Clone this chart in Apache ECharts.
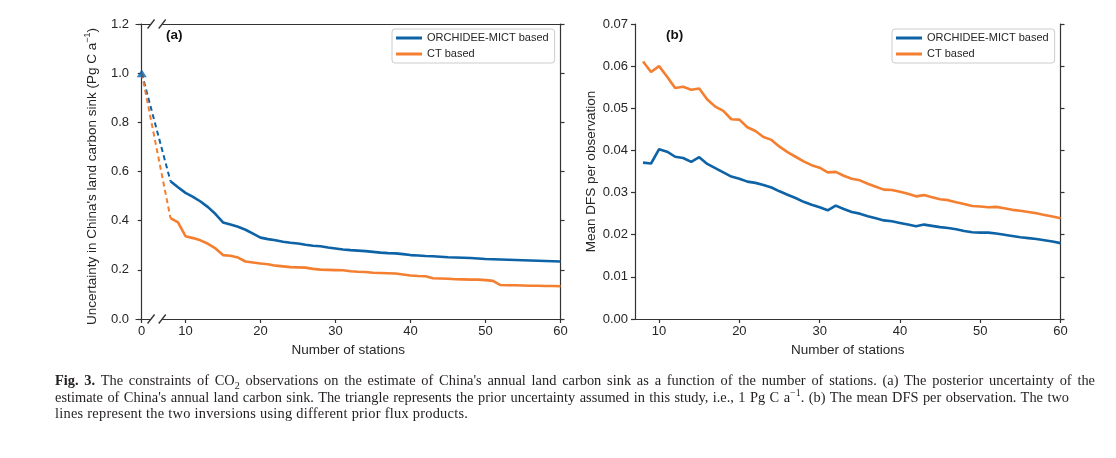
<!DOCTYPE html>
<html>
<head>
<meta charset="utf-8">
<script src="https://cdn.jsdelivr.net/npm/echarts@6/dist/echarts.min.js"></script>
<style>
  html, body { margin: 0; padding: 0; background: #fff; }
  #wrap { position: relative; width: 1116px; height: 458px; overflow: hidden; }
  #chart { position: absolute; left: 0; top: 0; width: 1116px; height: 458px; }
  #caption { position: absolute; left: 55px; top: 372px; font-family: "Liberation Serif", "DejaVu Serif", serif; font-size: 14.4px; line-height: 16.5px; color: #231f20; }
  #caption .ln { white-space: nowrap; }
  #caption .j { text-align: justify; text-align-last: justify; white-space: normal; }
  #caption sub, #caption sup { font-size: 10px; line-height: 0; }
</style>
</head>
<body>
<div id="wrap">
  <div id="chart"></div>
  <div id="caption">
    <div class="ln j" style="width:1040px"><b>Fig. 3.</b> The constraints of CO<sub>2</sub> observations on the estimate of China's annual land carbon sink as a function of the number of stations. (a) The posterior uncertainty of the</div>
    <div class="ln j" style="width:1014px">estimate of China's annual land carbon sink. The triangle represents the prior uncertainty assumed in this study, i.e., 1 Pg C a<sup>−1</sup>. (b) The mean DFS per observation. The two</div>
    <div class="ln" style="letter-spacing:0.25px">lines represent the two inversions using different prior flux products.</div>
  </div>
</div>
<script>
// ---------------- DATA ----------------
const seriesNames = ['ORCHIDEE-MICT based', 'CT based'];
const stations = [8, 9, 10, 11, 12, 13, 14, 15, 16, 17, 18, 19, 20, 21, 22, 23, 24, 25, 26, 27, 28, 29, 30,
  31, 32, 33, 34, 35, 36, 37, 38, 39, 40, 41, 42, 43, 44, 45, 46, 47, 48, 49, 50,
  51, 52, 53, 54, 55, 56, 57, 58, 59, 60];
const priorStations = 0;
const priorUncertainty = 1.0;
// (a) posterior uncertainty (Pg C a-1)
const uncOrchidee = [0.560, 0.536, 0.513, 0.497, 0.478, 0.455, 0.427, 0.393, 0.384, 0.375, 0.363, 0.347, 0.331,
  0.325, 0.320, 0.314, 0.310, 0.307, 0.302, 0.298, 0.296, 0.291, 0.287,
  0.283, 0.280, 0.278, 0.276, 0.273, 0.270, 0.268, 0.267, 0.264, 0.260,
  0.258, 0.256, 0.255, 0.253, 0.251, 0.250, 0.249, 0.248, 0.246, 0.244,
  0.243, 0.242, 0.241, 0.240, 0.239, 0.238, 0.237, 0.236, 0.235, 0.234];
const uncCT = [0.410, 0.393, 0.337, 0.329, 0.320, 0.306, 0.287, 0.260, 0.257, 0.250, 0.234, 0.230, 0.226,
  0.223, 0.217, 0.214, 0.211, 0.210, 0.209, 0.204, 0.201, 0.200, 0.199,
  0.198, 0.194, 0.192, 0.191, 0.188, 0.187, 0.186, 0.185, 0.181, 0.177,
  0.175, 0.174, 0.166, 0.165, 0.164, 0.162, 0.161, 0.160, 0.160, 0.158,
  0.155, 0.138, 0.137, 0.137, 0.136, 0.135, 0.135, 0.134, 0.134, 0.133];
// (b) mean DFS per observation
const dfsOrchidee = [0.0371, 0.0369, 0.0403, 0.0397, 0.0385, 0.0382, 0.0373, 0.0384, 0.0368, 0.0358, 0.0348, 0.0338, 0.0333,
  0.0326, 0.0323, 0.0318, 0.0312, 0.0303, 0.0295, 0.0287, 0.0278, 0.0271, 0.0265,
  0.0258, 0.0269, 0.0261, 0.0254, 0.0250, 0.0244, 0.0239, 0.0234, 0.0232, 0.0228,
  0.0224, 0.0220, 0.0224, 0.0221, 0.0218, 0.0216, 0.0213, 0.0209, 0.0206, 0.0205,
  0.0205, 0.0203, 0.0200, 0.0197, 0.0194, 0.0192, 0.0190, 0.0187, 0.0184, 0.0180];
const dfsCT = [0.0611, 0.0586, 0.0600, 0.0575, 0.0548, 0.0551, 0.0544, 0.0547, 0.0521, 0.0504, 0.0494, 0.0474, 0.0473,
  0.0455, 0.0446, 0.0432, 0.0425, 0.0409, 0.0396, 0.0385, 0.0374, 0.0365, 0.0359,
  0.0348, 0.0349, 0.0340, 0.0333, 0.0329, 0.0321, 0.0314, 0.0307, 0.0306, 0.0302,
  0.0297, 0.0291, 0.0294, 0.0289, 0.0284, 0.0282, 0.0277, 0.0273, 0.0268, 0.0267,
  0.0265, 0.0266, 0.0263, 0.0259, 0.0257, 0.0254, 0.0251, 0.0247, 0.0243, 0.0239];
const xTicks = [10, 20, 30, 40, 50, 60];
const xTicksPrior = [0];

// ---------------- STYLE ----------------
const BLUE = '#0d63a6';
const ORANGE = '#f47f30';
const AX = '#333333';
const TXT = '#262626';
const FONT = '"Liberation Sans", Arial, sans-serif';

const pair = (xs, ys) => xs.map((x, i) => [x, ys[i]]);

const chart = echarts.init(document.getElementById('chart'), null, { renderer: 'canvas' });

const axisLineStyle = { show: true, lineStyle: { color: AX, width: 1.2 } };
const tickStyle = { show: true, inside: false, length: 4, lineStyle: { color: AX, width: 1.2 } };
const labelStyle = { color: TXT, fontSize: 13, fontFamily: FONT };

function bottomX(grid, min, max, ticks, showLine) {
  return {
    type: 'value', gridIndex: grid, position: 'bottom', min: min, max: max,
    axisLine: showLine ? axisLineStyle : { show: false },
    axisTick: Object.assign({ customValues: ticks }, tickStyle),
    axisLabel: Object.assign({ customValues: ticks, margin: 6 }, labelStyle),
    splitLine: { show: false }
  };
}
function topX(grid, min, max) {
  return {
    type: 'value', gridIndex: grid, position: 'top', min: min, max: max,
    axisLine: axisLineStyle, axisTick: { show: false }, axisLabel: { show: false }, splitLine: { show: false }
  };
}
function sideY(grid, pos, min, max, interval, digits, name, nameGap, namePad) {
  const ax = {
    type: 'value', gridIndex: grid, position: pos, min: min, max: max, interval: interval,
    axisLine: axisLineStyle, axisTick: tickStyle,
    axisLabel: pos === 'left'
      ? Object.assign({ margin: 7, formatter: v => v.toFixed(digits) }, labelStyle)
      : { show: false },
    splitLine: { show: false }
  };
  if (name) {
    ax.name = name;
    ax.nameLocation = 'middle';
    ax.nameGap = nameGap;
    ax.nameTextStyle = {
      color: TXT, fontSize: 13.5, fontFamily: FONT, padding: namePad || 0,
      rich: { sup: { fontSize: 9, fontFamily: FONT, color: TXT, padding: [0, 0, 10, 0] } }
    };
  }
  return ax;
}

const xMinA = 3.4, xMinB = 7, xMax = 60;

const option = {
  animation: false,
  backgroundColor: '#ffffff',
  textStyle: { fontFamily: FONT },
  grid: [
    { left: 136, right: 555.5, top: 24, bottom: 139 },
    { left: 635, right: 55.5, top: 24, bottom: 139 }
  ],
  xAxis: [
    Object.assign(bottomX(0, xMinA, xMax, xTicks, true), {
      name: 'Number of stations', nameLocation: 'middle', nameGap: 22,
      nameTextStyle: { color: TXT, fontSize: 13.5, fontFamily: FONT }
    }),
    bottomX(0, -1.583, 116.33, xTicksPrior, false),
    topX(0, xMinA, xMax),
    Object.assign(bottomX(1, xMinB, xMax, xTicks, true), {
      name: 'Number of stations', nameLocation: 'middle', nameGap: 22,
      nameTextStyle: { color: TXT, fontSize: 13.5, fontFamily: FONT }
    }),
    topX(1, xMinB, xMax)
  ],
  yAxis: [
    sideY(0, 'left', 0, 1.2, 0.2, 1, "Uncertainty in China's land carbon sink (Pg C a{sup|−1})", 34, [0, 10, 0, 0]),
    sideY(0, 'right', 0, 1.2, 0.2, 1),
    sideY(1, 'left', 0, 0.07, 0.01, 2, 'Mean DFS per observation', 37),
    sideY(1, 'right', 0, 0.07, 0.01, 2)
  ],
  legend: [0, 1].map(i => ({
    data: seriesNames,
    orient: 'vertical',
    left: i === 0 ? 392 : 892,
    top: 29,
    padding: [1, 6, 1, 4],
    itemGap: 0,
    itemWidth: 26,
    itemHeight: 3,
    icon: 'rect',
    borderColor: '#cccccc',
    borderWidth: 1,
    borderRadius: 3,
    backgroundColor: 'rgba(255,255,255,0.8)',
    selectedMode: false,
    textStyle: { color: TXT, fontSize: 11, fontFamily: FONT, lineHeight: 16 }
  })),
  series: [
    {
      name: 'prior-orchidee', type: 'line', xAxisIndex: 1, yAxisIndex: 0, showSymbol: false, silent: true,
      data: [[priorStations, priorUncertainty], [stations[0], uncOrchidee[0]]],
      lineStyle: { color: BLUE, width: 2, type: [5, 3.5] }, z: 2
    },
    {
      name: 'prior-ct', type: 'line', xAxisIndex: 1, yAxisIndex: 0, showSymbol: false, silent: true,
      data: [[priorStations, priorUncertainty], [stations[0], uncCT[0]]],
      lineStyle: { color: ORANGE, width: 2, type: [5, 3.5] }, z: 2
    },
    {
      name: seriesNames[0], type: 'line', xAxisIndex: 0, yAxisIndex: 0, showSymbol: false,
      data: pair(stations, uncOrchidee), color: BLUE, lineStyle: { color: BLUE, width: 2.6 }, z: 3
    },
    {
      name: seriesNames[1], type: 'line', xAxisIndex: 0, yAxisIndex: 0, showSymbol: false,
      data: pair(stations, uncCT), color: ORANGE, lineStyle: { color: ORANGE, width: 2.6 }, z: 3
    },
    {
      name: 'prior', type: 'scatter', xAxisIndex: 1, yAxisIndex: 0, symbol: 'triangle', symbolSize: [10, 8],
      data: [[priorStations, priorUncertainty]], itemStyle: { color: BLUE }, z: 5
    },
    {
      name: seriesNames[0], type: 'line', xAxisIndex: 3, yAxisIndex: 2, showSymbol: false,
      data: pair(stations, dfsOrchidee), color: BLUE, lineStyle: { color: BLUE, width: 2.6 }, z: 3
    },
    {
      name: seriesNames[1], type: 'line', xAxisIndex: 3, yAxisIndex: 2, showSymbol: false,
      data: pair(stations, dfsCT), color: ORANGE, lineStyle: { color: ORANGE, width: 2.6 }, z: 3
    }
  ]
};
chart.setOption(option);

// panel labels and axis-break marks
const yBot = chart.convertToPixel({ yAxisIndex: 0 }, 0);
const yTop = chart.convertToPixel({ yAxisIndex: 0 }, 1.2);
const bx1 = chart.convertToPixel({ xAxisIndex: 1 }, 2.6);
const bx2 = chart.convertToPixel({ xAxisIndex: 1 }, 5.7);
const gfx = [];
[yBot, yTop].forEach(y => {
  gfx.push({ type: 'rect', shape: { x: bx1, y: y - 2, width: bx2 - bx1, height: 4 }, style: { fill: '#ffffff' }, z: 100 });
  [bx1, bx2].forEach(x => {
    gfx.push({ type: 'line', shape: { x1: x - 3.5, y1: y + 4.5, x2: x + 3.5, y2: y - 4.5 }, style: { stroke: AX, lineWidth: 1.3 }, z: 101 });
  });
});
gfx.push({ type: 'text', left: 166, top: 28, style: { text: '(a)', fontSize: 13.5, fontWeight: 'bold', fill: '#111', fontFamily: FONT }, z: 50 });
gfx.push({ type: 'text', left: 666, top: 28, style: { text: '(b)', fontSize: 13.5, fontWeight: 'bold', fill: '#111', fontFamily: FONT }, z: 50 });
chart.setOption({ graphic: gfx });
</script>
</body>
</html>
